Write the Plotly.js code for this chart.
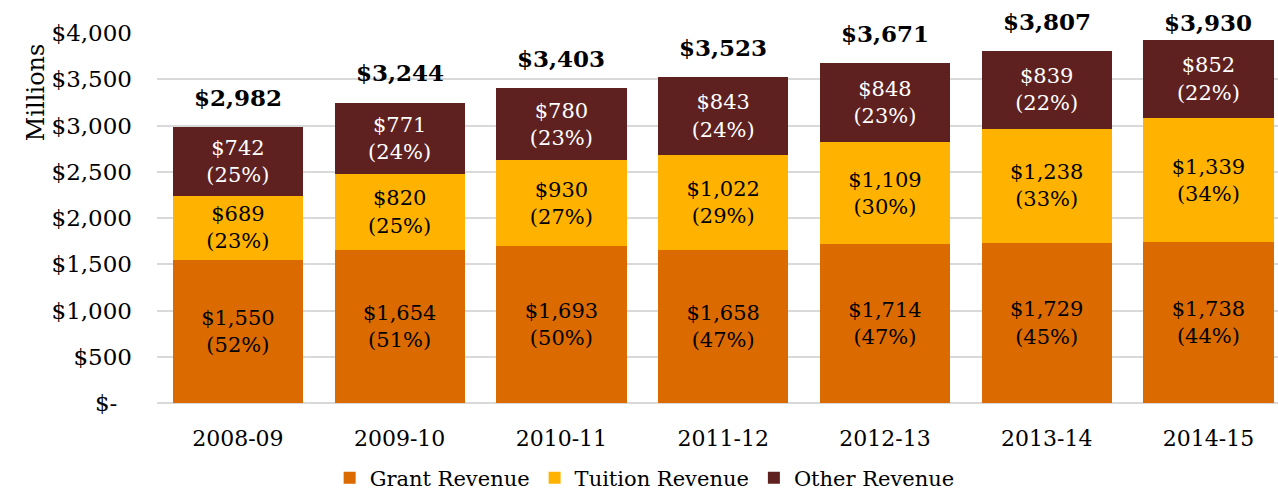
<!DOCTYPE html>
<html>
<head>
<meta charset="utf-8">
<script src="https://cdn.plot.ly/plotly-3.0.1.min.js"></script>
<style>html,body{margin:0;padding:0;background:#fff;}#chart{width:1278px;height:494px;}</style>
</head>
<body>
<div id="chart"></div>
<script>
const years = ["2008-09","2009-10","2010-11","2011-12","2012-13","2013-14","2014-15"];
const grant = [1550,1654,1693,1658,1714,1729,1738];
const grantPct = [52,51,50,47,47,45,44];
const tuition = [689,820,930,1022,1109,1238,1339];
const tuitionPct = [23,25,27,29,30,33,34];
const other = [742,771,780,843,848,839,852];
const otherPct = [25,24,23,24,23,22,22];
const totals = [2982,3244,3403,3523,3671,3807,3930];
const yTickVals = [0,500,1000,1500,2000,2500,3000,3500,4000];
const yTickText = ["$-\u00a0\u00a0","$500","$1,000","$1,500","$2,000","$2,500","$3,000","$3,500","$4,000"];

const FONT = "DejaVu Serif, Liberation Serif, serif";
const fmt = v => "$" + v.toLocaleString("en-US");
const lbl = (vals, pcts) => vals.map((v,i) => fmt(v) + "<br>(" + pcts[i] + "%)");

const Y_MAX = 4000;
const PLOT_H = 494 - 33 - 91;

function seg(name, vals, pcts, color, txtColor){
  return {
    type: "bar", name: name, x: years, y: vals,
    marker: {color: color},
    text: lbl(vals, pcts), textposition: "inside", insidetextanchor: "middle",
    textangle: 0, constraintext: "none",
    textfont: {family: FONT, size: 21, color: txtColor},
    hoverinfo: "skip"
  };
}

const data = [
  seg("Grant Revenue", grant, grantPct, "#DB6A00", "#000"),
  seg("Tuition Revenue", tuition, tuitionPct, "#FFB300", "#000"),
  seg("Other Revenue", other, otherPct, "#5E2120", "#fff")
];

// total labels sit ~30px above the bar, but are kept inside the chart area (like the source)
const annotations = years.map((yr,i) => {
  const roomPx = (Y_MAX - totals[i]) / Y_MAX * PLOT_H;
  return {
    x: yr, y: totals[i], xref: "x", yref: "y",
    yshift: Math.min(30, roomPx + 11),
    text: "<b>" + fmt(totals[i]) + "</b>", showarrow: false,
    yanchor: "middle", font: {family: FONT, size: 23, color: "#000"}
  };
});
annotations.push({
  xref: "paper", yref: "paper", x: -0.108, y: 0.84, xanchor: "center", yanchor: "middle",
  text: "Millions", textangle: -90, showarrow: false,
  font: {family: FONT, size: 24, color: "#000"}
});

const layout = {
  width: 1278, height: 494,
  margin: {l: 157, r: 0, t: 33, b: 91},
  paper_bgcolor: "#fff", plot_bgcolor: "#fff",
  barmode: "stack", bargap: 0.195,
  font: {family: FONT, size: 20, color: "#000"},
  xaxis: {
    type: "category", range: [-0.5, 6.43],
    showgrid: false, showline: false, zeroline: false, ticks: "",
    tickfont: {family: FONT, size: 22, color: "#000"}, ticklabelstandoff: 20
  },
  yaxis: {
    range: [0, Y_MAX], tickvals: yTickVals, ticktext: yTickText,
    showgrid: true, gridcolor: "#D9D9D9", gridwidth: 2,
    zeroline: true, zerolinecolor: "#D9D9D9", zerolinewidth: 2,
    showline: false, ticks: "",
    tickfont: {family: FONT, size: 23, color: "#000"}, ticklabelstandoff: 24
  },
  showlegend: true,
  legend: {
    orientation: "h", x: 0.435, xanchor: "center",
    yref: "container", y: 0.032, yanchor: "middle",
    font: {family: FONT, size: 21, color: "#000"}, traceorder: "normal"
  },
  annotations: annotations
};

Plotly.newPlot("chart", data, layout, {displayModeBar: false, staticPlot: true});
</script>
</body>
</html>
